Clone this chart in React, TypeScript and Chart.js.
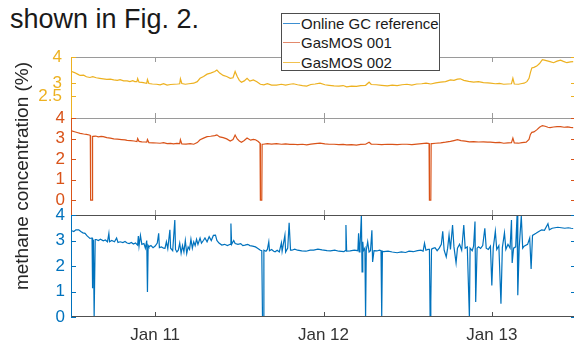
import React, { useEffect, useRef } from 'react';
import { Chart, registerables } from 'chart.js';

Chart.register(...registerables);

// time axis in hours since Jan 10 00:00
const xRange = [12, 84];
const xTickValues = [24, 48, 72];
const xTickLabels = ['Jan 11', 'Jan 12', 'Jan 13'];
const seriesNames = ['Online GC reference', 'GasMOS 001', 'GasMOS 002'];

const yTicksGasmos002 = [2.5, 3, 4];
const yRangeGasmos002 = [1.65, 4];
const yTicksGasmos001 = [0, 1, 2, 3, 4];
const yRangeGasmos001 = [-0.73, 4];
const yTicksGC = [0, 1, 2, 3, 4];
const yRangeGC = [0, 4];

// [hour, methane %]
const gasmos002 = [
  [12.1, 3.44], [12.5, 3.4], [13.0, 3.33], [13.3, 3.29], [13.8, 3.3], [14.2, 3.24], [14.7, 3.21], [15.1, 3.24],
  [15.6, 3.2], [16.1, 3.18], [16.6, 3.16], [17.1, 3.14], [17.6, 3.15], [18.1, 3.12], [18.6, 3.1], [19.0, 3.13],
  [19.5, 3.08], [20.0, 3.08], [20.4, 3.05], [20.8, 3.09], [21.1, 3.05], [21.4, 3.05], [21.5, 3.17], [21.7, 3.03],
  [22.1, 3.02], [22.5, 3.0], [22.8, 2.99], [22.9, 3.13], [23.1, 2.98], [23.6, 2.96], [24.2, 2.95], [24.7, 2.93],
  [25.2, 2.97], [25.7, 2.92], [26.2, 2.94], [26.7, 2.95], [27.2, 2.96], [27.5, 2.97], [27.6, 3.16], [27.8, 2.98],
  [28.3, 2.95], [28.8, 2.97], [29.5, 2.99], [30.0, 3.05], [30.4, 3.18], [30.9, 3.25], [31.4, 3.34], [31.9, 3.38],
  [32.5, 3.44], [32.8, 3.5], [33.2, 3.38], [33.7, 3.29], [34.2, 3.25], [34.7, 3.18], [35.1, 3.2], [35.4, 3.44],
  [35.7, 3.25], [36.0, 3.1], [36.3, 3.03], [36.7, 3.08], [37.1, 3.18], [37.5, 3.07], [38.0, 3.12], [38.5, 3.05],
  [39.0, 2.95], [39.5, 2.93], [40.0, 2.97], [40.6, 2.92], [41.3, 2.92], [42.0, 2.95], [42.6, 2.92], [43.2, 2.95],
  [43.7, 2.97], [44.3, 2.93], [45.0, 2.9], [45.6, 2.88], [46.2, 2.94], [46.8, 2.96], [47.5, 2.99], [48.2, 2.93],
  [48.8, 2.91], [49.5, 2.89], [50.2, 2.88], [50.8, 2.9], [51.3, 2.85], [52.0, 2.88], [52.7, 2.87], [53.3, 2.9],
  [54.0, 2.91], [54.5, 3.03], [54.8, 2.94], [55.5, 2.93], [56.3, 2.91], [57.1, 2.89], [57.8, 2.92], [58.5, 2.9],
  [59.2, 2.93], [59.9, 2.95], [60.6, 2.92], [61.3, 2.96], [62.0, 2.97], [62.6, 2.99], [63.3, 2.96], [64.0, 3.0],
  [64.7, 3.03], [65.4, 3.05], [66.1, 3.12], [66.6, 3.1], [67.1, 3.15], [67.5, 3.16], [68.0, 3.1], [68.7, 3.06],
  [69.4, 3.03], [70.1, 3.05], [70.8, 3.01], [71.4, 3.0], [71.8, 2.99], [72.5, 2.97], [73.1, 2.98], [73.7, 2.95],
  [74.3, 2.96], [74.8, 2.97], [75.0, 3.18], [75.2, 2.96], [75.8, 2.95], [76.3, 2.98], [76.6, 2.99], [77.0, 3.05],
  [77.3, 3.18], [77.5, 3.4], [77.7, 3.58], [78.0, 3.6], [78.4, 3.65], [78.8, 3.75], [79.2, 3.9], [79.5, 3.88],
  [79.9, 3.85], [80.3, 3.82], [80.8, 3.78], [81.3, 3.84], [81.8, 3.88], [82.2, 3.83], [82.7, 3.78], [83.2, 3.81],
  [83.6, 3.82],
];

const gasmos001 = [
  [12.1, 3.37], [12.5, 3.33], [13.0, 3.28], [13.3, 3.25], [13.8, 3.22], [14.2, 3.2], [14.6, 3.17], [14.75, 3.15],
  [14.8, 0.0], [15.0, 0.0], [15.05, 3.12], [15.1, 3.1], [15.5, 3.12], [15.9, 3.08], [16.3, 3.1], [16.6, 3.09],
  [17.1, 3.04], [17.6, 3.02], [18.1, 2.98], [18.6, 2.97], [19.2, 2.95], [19.7, 2.93], [20.0, 2.91], [20.5, 2.9],
  [21.0, 2.88], [21.4, 2.85], [21.5, 3.0], [21.7, 2.86], [22.1, 2.84], [22.5, 2.83], [22.8, 2.82], [22.9, 2.95],
  [23.1, 2.8], [23.7, 2.79], [24.2, 2.78], [24.7, 2.77], [25.2, 2.8], [25.7, 2.75], [26.2, 2.76], [26.6, 2.74],
  [27.1, 2.76], [27.5, 2.75], [27.6, 2.94], [27.8, 2.74], [28.4, 2.73], [29.0, 2.75], [29.5, 2.72], [30.0, 2.8],
  [30.4, 2.94], [30.9, 3.02], [31.4, 3.09], [31.9, 3.11], [32.5, 3.14], [32.8, 3.18], [33.2, 3.08], [33.7, 3.04],
  [34.2, 2.98], [34.7, 2.88], [35.1, 2.95], [35.4, 3.17], [35.7, 2.98], [36.0, 2.88], [36.3, 2.82], [36.7, 2.9],
  [37.1, 3.02], [37.6, 2.92], [38.0, 2.96], [38.3, 2.94], [38.7, 2.85], [38.95, 2.77], [39.0, 0.0], [39.2, 0.0],
  [39.25, 2.72], [39.4, 2.72], [40.0, 2.75], [40.6, 2.73], [41.3, 2.75], [42.0, 2.72], [42.6, 2.74], [43.2, 2.71],
  [43.7, 2.72], [44.3, 2.7], [45.0, 2.72], [45.6, 2.69], [46.2, 2.73], [46.8, 2.75], [47.5, 2.77], [48.2, 2.74],
  [48.8, 2.72], [49.5, 2.72], [50.2, 2.7], [50.8, 2.71], [51.3, 2.69], [52.0, 2.7], [52.7, 2.68], [53.3, 2.71],
  [54.0, 2.72], [54.5, 2.82], [54.8, 2.73], [55.5, 2.72], [56.3, 2.7], [57.1, 2.72], [57.8, 2.71], [58.5, 2.7],
  [59.2, 2.72], [59.9, 2.72], [60.6, 2.7], [61.3, 2.73], [62.0, 2.75], [62.7, 2.77], [63.05, 2.76], [63.1, 0.0],
  [63.3, 0.0], [63.35, 2.75], [63.5, 2.75], [64.0, 2.77], [64.7, 2.79], [65.4, 2.82], [66.1, 2.86], [66.6, 2.9],
  [67.1, 2.94], [67.6, 2.9], [68.2, 2.87], [68.8, 2.84], [69.4, 2.85], [70.1, 2.83], [70.8, 2.84], [71.4, 2.82],
  [71.8, 2.82], [72.5, 2.8], [73.1, 2.81], [73.7, 2.77], [74.3, 2.79], [74.8, 2.8], [75.0, 3.02], [75.2, 2.78],
  [75.8, 2.77], [76.3, 2.8], [76.9, 2.82], [77.3, 2.95], [77.5, 3.2], [77.7, 3.3], [78.0, 3.32], [78.4, 3.42],
  [78.8, 3.55], [79.2, 3.63], [79.6, 3.6], [80.0, 3.55], [80.3, 3.53], [80.8, 3.56], [81.3, 3.58], [81.8, 3.58],
  [82.3, 3.55], [82.8, 3.57], [83.2, 3.54], [83.6, 3.53],
];

const gcReference = [
  [12.1, 3.38], [12.4, 3.35], [12.7, 3.42], [13.1, 3.42], [13.4, 3.35], [13.7, 3.3], [14.0, 3.28], [14.3, 3.18],
  [14.7, 3.08], [15.0, 3.1], [15.05, 1.13], [15.1, 3.05], [15.2, 3.0], [15.3, 0.0], [15.4, 0.0], [15.45, 3.04],
  [15.6, 3.04], [15.9, 3.0], [16.2, 3.05], [16.6, 2.99], [16.9, 3.02], [17.2, 2.95], [17.4, 3.28], [17.5, 2.95],
  [17.8, 3.0], [18.2, 2.95], [18.5, 3.1], [18.7, 2.92], [19.0, 2.95], [19.4, 2.92], [19.7, 2.96], [20.0, 2.9],
  [20.3, 2.88], [20.6, 2.92], [20.9, 2.86], [21.2, 2.9], [21.5, 2.82], [21.6, 3.17], [21.7, 2.78], [21.9, 3.2],
  [22.1, 2.85], [22.4, 2.88], [22.6, 2.7], [22.8, 3.0], [22.9, 0.98], [23.0, 2.8], [23.1, 2.75], [23.4, 2.8],
  [23.7, 2.72], [24.0, 2.78], [24.3, 2.9], [24.5, 3.28], [24.6, 2.72], [24.9, 2.75], [25.2, 2.7], [25.4, 2.69],
  [25.6, 2.95], [25.8, 2.68], [26.1, 3.42], [26.2, 2.7], [26.5, 2.6], [26.8, 3.8], [26.9, 2.65], [27.1, 2.55],
  [27.3, 2.62], [27.5, 2.9], [27.7, 2.5], [27.9, 2.8], [28.1, 2.55], [28.3, 3.0], [28.5, 2.49], [28.7, 2.75],
  [28.9, 2.65], [29.1, 3.05], [29.3, 2.7], [29.5, 2.95], [29.7, 2.8], [29.9, 3.05], [30.1, 2.85], [30.4, 3.1],
  [30.6, 2.9], [30.9, 3.01], [31.1, 3.1], [31.4, 2.95], [31.7, 3.15], [32.0, 3.0], [32.3, 3.2], [32.6, 3.21],
  [32.8, 3.0], [33.1, 2.9], [33.5, 2.82], [33.9, 2.85], [34.3, 2.8], [34.7, 2.85], [34.8, 3.67], [34.9, 2.85],
  [35.2, 3.0], [35.4, 2.88], [35.8, 2.85], [36.2, 2.88], [36.5, 2.8], [36.8, 2.82], [37.2, 2.85], [37.5, 2.8],
  [37.9, 2.78], [38.3, 2.75], [38.6, 2.7], [39.0, 2.62], [39.2, 2.6], [39.3, 0.0], [39.4, 0.0], [39.5, 2.62],
  [39.8, 2.58], [40.0, 2.65], [40.2, 2.95], [40.3, 2.6], [40.6, 2.65], [40.9, 2.58], [41.1, 2.56], [41.4, 2.62],
  [41.7, 2.55], [42.0, 2.91], [42.1, 2.58], [42.5, 3.21], [42.6, 2.55], [42.9, 2.7], [43.1, 3.69], [43.3, 2.62],
  [43.5, 2.62], [43.9, 2.66], [44.3, 2.62], [44.9, 2.59], [45.5, 2.58], [46.1, 2.62], [46.6, 2.62], [47.2, 2.66],
  [47.8, 2.63], [48.5, 2.6], [49.0, 2.59], [49.6, 2.62], [50.2, 2.58], [50.9, 2.56], [51.1, 2.6], [51.2, 3.61],
  [51.3, 2.58], [51.8, 2.59], [52.4, 2.62], [52.9, 2.6], [53.0, 3.28], [53.1, 2.55], [53.2, 2.75], [53.4, 4.0],
  [53.5, 1.77], [53.6, 2.95], [53.7, 2.6], [53.9, 2.7], [54.0, 0.0], [54.1, 2.62], [54.3, 2.95], [54.5, 2.55],
  [54.7, 2.6], [54.9, 3.4], [55.0, 2.16], [55.2, 2.6], [55.6, 2.59], [56.0, 2.62], [56.2, 2.6], [56.3, 0.0],
  [56.4, 2.58], [56.6, 2.56], [57.2, 2.58], [57.8, 2.55], [58.5, 2.52], [59.1, 2.55], [59.7, 2.53], [60.2, 2.58],
  [60.8, 2.56], [61.4, 2.6], [61.9, 2.62], [62.2, 2.58], [62.4, 2.89], [62.6, 2.62], [62.9, 2.65], [63.1, 2.65],
  [63.2, 0.0], [63.3, 0.6], [63.4, 2.66], [63.6, 2.69], [63.9, 2.72], [64.2, 2.6], [64.5, 2.7], [64.8, 2.85],
  [65.0, 3.36], [65.2, 2.62], [65.5, 2.36], [65.7, 2.7], [65.9, 3.22], [66.1, 2.65], [66.4, 3.61], [66.6, 2.75],
  [66.9, 2.12], [67.1, 2.7], [67.4, 2.85], [67.7, 2.62], [68.0, 3.61], [68.2, 2.7], [68.5, 2.75], [68.8, 0.0],
  [68.9, 2.7], [69.2, 2.6], [69.4, 2.78], [69.6, 3.74], [69.7, 0.59], [69.9, 2.7], [70.1, 2.75], [70.4, 2.69],
  [70.7, 2.8], [71.0, 3.48], [71.2, 2.7], [71.5, 2.65], [71.8, 2.78], [72.0, 1.24], [72.2, 2.7], [72.5, 3.36],
  [72.7, 2.65], [73.0, 2.8], [73.3, 0.52], [73.5, 2.72], [73.8, 3.3], [74.0, 2.65], [74.3, 2.85], [74.6, 2.7],
  [74.8, 3.8], [74.9, 2.12], [75.1, 2.7], [75.4, 2.75], [75.6, 4.0], [75.7, 0.85], [75.9, 2.72], [76.2, 3.97],
  [76.4, 2.7], [76.6, 2.78], [77.1, 2.85], [77.4, 3.1], [77.6, 1.88], [77.8, 3.2], [78.3, 3.28], [78.7, 3.35],
  [79.1, 3.42], [79.5, 3.4], [80.0, 3.66], [80.2, 3.42], [80.6, 3.48], [81.0, 3.5], [81.4, 3.52], [81.9, 3.5],
  [82.4, 3.48], [82.9, 3.5], [83.3, 3.48], [83.6, 3.47],
];

const COLORS = { gc: '#0072BD', g001: '#D95319', g002: '#EDB120' };
const FONT = '"Liberation Sans", Arial, Helvetica, sans-serif';
const W = 580;
const H = 343;

const framePlugin = {
  id: 'frame',
  afterDatasetsDraw(chart: any, _args: any, opts: any) {
    const { ctx, chartArea } = chart;
    const { left, right, top, bottom } = chartArea;
    const xs = chart.scales.x;
    const ys = chart.scales.y;
    ctx.save();
    ctx.lineWidth = 1;
    const seg = (x1: number, y1: number, x2: number, y2: number, c: string) => {
      ctx.strokeStyle = c;
      ctx.beginPath();
      ctx.moveTo(x1, y1);
      ctx.lineTo(x2, y2);
      ctx.stroke();
    };
    const t = Math.round(top) + 0.5;
    const b = Math.round(bottom) - 0.5;
    const l = Math.round(left) + 0.5;
    seg(left, t, right, t, opts.topColor);
    if (opts.bottomColor) seg(left, b, right, b, opts.bottomColor);
    xTickValues.forEach((v) => {
      const px = Math.round(xs.getPixelForValue(v)) + 0.5;
      seg(px, top, px, top + 5, opts.topColor);
      seg(px, bottom, px, bottom - 5, opts.bottomColor || opts.topColor);
    });
    opts.yTicks.forEach((v: number) => {
      const py = Math.round(ys.getPixelForValue(v)) + 0.5;
      seg(left, py, left + 5, py, opts.color);
      seg(right, py, right - 5, py, opts.color);
    });
    seg(l, top, l, bottom, opts.color);
    ctx.restore();
  },
};

type PanelProps = {
  points: number[][];
  color: string;
  yRange: number[];
  yTicks: number[];
  top: number;
  bottom: number;
  showX: boolean;
  topColor: string;
  bottomColor?: string;
  labelPad: number;
};

function Panel(p: PanelProps) {
  const ref = useRef<HTMLCanvasElement>(null);
  useEffect(() => {
    if (!ref.current) return;
    const chart = new Chart(ref.current, {
      type: 'line',
      data: {
        datasets: [
          {
            data: p.points.map(([x, y]) => ({ x, y })),
            borderColor: p.color,
            borderWidth: 1.2,
            pointRadius: 0,
            tension: 0,
            fill: false,
          },
        ],
      },
      options: {
        animation: false,
        responsive: false,
        devicePixelRatio: 1,
        events: [],
        layout: {
          padding: { top: p.top, bottom: p.showX ? 0 : H - p.bottom, left: 0, right: W - 576 },
        },
        plugins: {
          legend: { display: false },
          tooltip: { enabled: false },
          frame: { color: p.color, yTicks: p.yTicks, topColor: p.topColor, bottomColor: p.bottomColor },
        } as any,
        scales: {
          x: {
            type: 'linear',
            min: xRange[0],
            max: xRange[1],
            display: p.showX,
            grid: { display: false, drawTicks: false },
            border: { display: false },
            afterBuildTicks: (s: any) => {
              s.ticks = xTickValues.map((v) => ({ value: v }));
            },
            afterFit: (s: any) => {
              if (p.showX) s.height = H - p.bottom;
            },
            ticks: {
              autoSkip: false,
              maxRotation: 0,
              padding: 8,
              color: '#333333',
              font: { family: FONT, size: 17 },
              callback: (v: any) => {
                const i = xTickValues.indexOf(Number(v));
                return i >= 0 ? xTickLabels[i] : '';
              },
            },
          },
          y: {
            type: 'linear',
            min: p.yRange[0],
            max: p.yRange[1],
            grid: { display: false, drawTicks: false },
            border: { display: false },
            afterBuildTicks: (s: any) => {
              s.ticks = p.yTicks.map((v) => ({ value: v }));
            },
            afterFit: (s: any) => {
              s.width = 71;
            },
            ticks: {
              autoSkip: false,
              padding: p.labelPad,
              color: p.color,
              font: { family: FONT, size: 17 },
              callback: (v: any) => String(v),
            },
          },
        },
      } as any,
      plugins: [framePlugin as any],
    });
    return () => chart.destroy();
  }, []);
  return (
    <canvas
      ref={ref}
      width={W}
      height={H}
      style={{ position: 'absolute', left: 0, top: 0, width: W, height: H }}
    />
  );
}

const legendItems = [
  { name: seriesNames[0], color: '#3d8fd1' },
  { name: seriesNames[1], color: '#e38a6c' },
  { name: seriesNames[2], color: '#f2c24f' },
];

export default function App() {
  return (
    <div
      style={{
        position: 'fixed',
        left: 0,
        top: 0,
        width: 574,
        height: 343,
        overflow: 'hidden',
        background: '#ffffff',
        fontFamily: FONT,
      }}
    >
      <div
        style={{
          position: 'absolute',
          left: 10,
          top: 6,
          fontSize: 27,
          lineHeight: '26px',
          color: '#1a1a1a',
          whiteSpace: 'nowrap',
        }}
      >
        shown in Fig. 2.
      </div>
      <Panel
        points={gasmos002}
        color={COLORS.g002}
        yRange={yRangeGasmos002}
        yTicks={yTicksGasmos002}
        top={57}
        bottom={118}
        showX={false}
        topColor="#9a9a9a"
        labelPad={9}
      />
      <Panel
        points={gasmos001}
        color={COLORS.g001}
        yRange={yRangeGasmos001}
        yTicks={yTicksGasmos001}
        top={118}
        bottom={215}
        showX={false}
        topColor="#9a9a9a"
        labelPad={6}
      />
      <Panel
        points={gcReference}
        color={COLORS.gc}
        yRange={yRangeGC}
        yTicks={yTicksGC}
        top={215}
        bottom={317}
        showX={true}
        topColor="#505050"
        bottomColor="#505050"
        labelPad={6}
      />
      <div
        style={{
          position: 'absolute',
          left: -98,
          top: 166,
          width: 240,
          height: 20,
          lineHeight: '20px',
          fontSize: 19,
          color: '#262626',
          textAlign: 'center',
          whiteSpace: 'nowrap',
          transform: 'rotate(-90deg)',
        }}
      >
        methane concentration (%)
      </div>
      <div
        style={{
          position: 'absolute',
          left: 281,
          top: 13,
          width: 157,
          height: 56,
          border: '1px solid #4d4d4d',
          background: '#ffffff',
          fontSize: 15,
          color: '#1a1a1a',
        }}
      >
        {legendItems.map((it, i) => (
          <div
            key={it.name}
            style={{
              position: 'absolute',
              left: 0,
              top: 1 + i * 19.3,
              height: 17,
              width: 157,
              lineHeight: '17px',
              whiteSpace: 'nowrap',
            }}
          >
            <span
              style={{
                position: 'absolute',
                left: 1,
                top: 8,
                width: 17,
                height: 1,
                background: it.color,
              }}
            />
            <span style={{ position: 'absolute', left: 19, top: 0 }}>{it.name}</span>
          </div>
        ))}
      </div>
    </div>
  );
}
